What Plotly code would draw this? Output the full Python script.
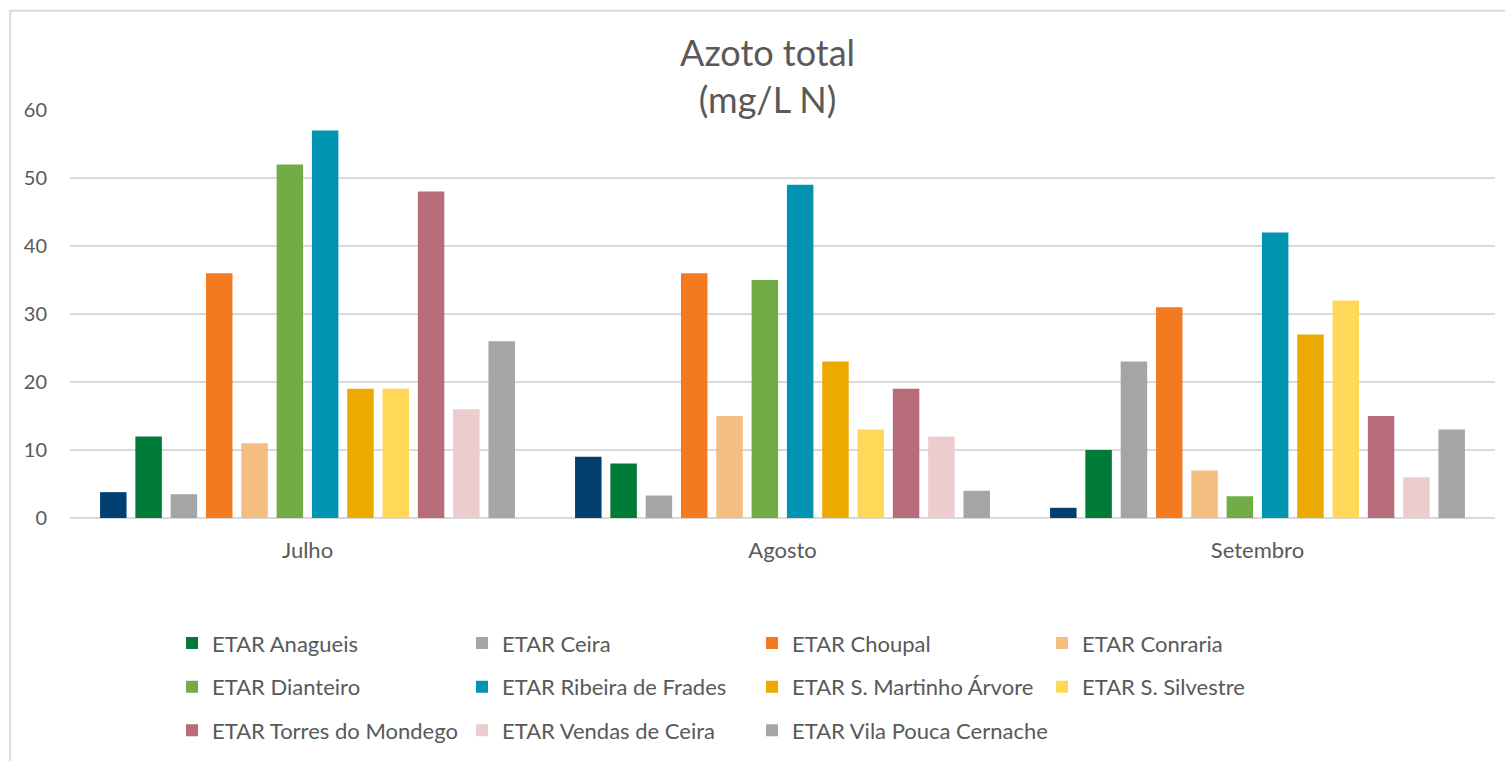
import plotly.graph_objects as go

months = ["Julho", "Agosto", "Setembro"]

series_names = [
    "Série 1",
    "ETAR Anagueis",
    "ETAR Ceira",
    "ETAR Choupal",
    "ETAR Conraria",
    "ETAR Dianteiro",
    "ETAR Ribeira de Frades",
    "ETAR S. Martinho Árvore",
    "ETAR S. Silvestre",
    "ETAR Torres do Mondego",
    "ETAR Vendas de Ceira",
    "ETAR Vila Pouca Cernache",
]

serie1 = [3.8, 9, 1.5]
anagueis = [12, 8, 10]
ceira = [3.5, 3.3, 23]
choupal = [36, 36, 31]
conraria = [11, 15, 7]
dianteiro = [52, 35, 3.2]
ribeira = [57, 49, 42]
martinho = [19, 23, 27]
silvestre = [19, 13, 32]
torres = [48, 19, 15]
vendas = [16, 12, 6]
vila_pouca = [26, 4, 13]

values = [serie1, anagueis, ceira, choupal, conraria, dianteiro, ribeira,
          martinho, silvestre, torres, vendas, vila_pouca]

colors = ["#003F70", "#007A37", "#A5A5A5", "#F47A22", "#F3BE80", "#72AC47",
          "#0093B2", "#ECA900", "#FFD85A", "#B76C7A", "#ECCCCE", "#A5A5A5"]

font_family = "Lato, 'Open Sans', sans-serif"
txt = "#595959"

# legend slot of each series (row layout as in the reference)
legend_of = ["legend",
             "legend", "legend", "legend", "legend",
             "legend2", "legend2", "legend2", "legend2",
             "legend3", "legend3", "legend4"]

fig = go.Figure()
for i, (name, vals, col) in enumerate(zip(series_names, values, colors)):
    fig.add_trace(go.Bar(
        x=months, y=vals, name=name,
        marker=dict(color=col, line=dict(width=0)),
        showlegend=(i != 0),
        legend=legend_of[i],
    ))

row_y = [-0.3067, -0.4138, -0.5208]
x0 = 0.0716
col_step = 290 / 1425
leg_common = dict(orientation="h", xanchor="left", yanchor="middle",
                  entrywidthmode="pixels",
                  font=dict(size=22, color=txt, family=font_family),
                  itemwidth=30, traceorder="normal",
                  bgcolor="rgba(0,0,0,0)")

fig.update_layout(
    width=1505, height=761,
    barmode="group", bargap=0.108, bargroupgap=0.25,
    paper_bgcolor="white", plot_bgcolor="white",
    margin=dict(l=70, r=10, t=110, b=240),
    font=dict(family=font_family, color=txt, size=20),
    title=dict(text="Azoto total<br>(mg/L N)", x=0.51, xanchor="center",
               y=0.913, yanchor="top",
               font=dict(size=36, color=txt, family=font_family)),
    xaxis=dict(showgrid=False, showline=False, ticks="", automargin=False,
               ticklabelstandoff=17,
               tickfont=dict(size=22, color=txt)),
    yaxis=dict(range=[0, 60], dtick=10, showgrid=True, gridcolor="#D9D9D9",
               gridwidth=1.5, zeroline=True, zerolinecolor="#D9D9D9",
               zerolinewidth=1.5, showline=False, ticks="", automargin=False,
               ticklabelstandoff=22,
               tickfont=dict(size=20, color=txt)),
    legend=dict(x=x0, y=row_y[0], entrywidth=245, **leg_common),
    legend2=dict(x=x0, y=row_y[1], entrywidth=245, **leg_common),
    legend3=dict(x=x0, y=row_y[2], entrywidth=245, **leg_common),
    legend4=dict(x=x0 + 2 * col_step, y=row_y[2], entrywidth=0, **leg_common),
    shapes=[dict(type="rect", xref="paper", yref="paper",
                 x0=-0.042, x1=1.1, y0=-0.6, y1=1.243,
                 line=dict(color="#D9D9D9", width=2), fillcolor="rgba(0,0,0,0)",
                 layer="below")],
)

fig.write_html("out.html", config={"displayModeBar": False},
               post_script="document.body.style.margin='0';")
